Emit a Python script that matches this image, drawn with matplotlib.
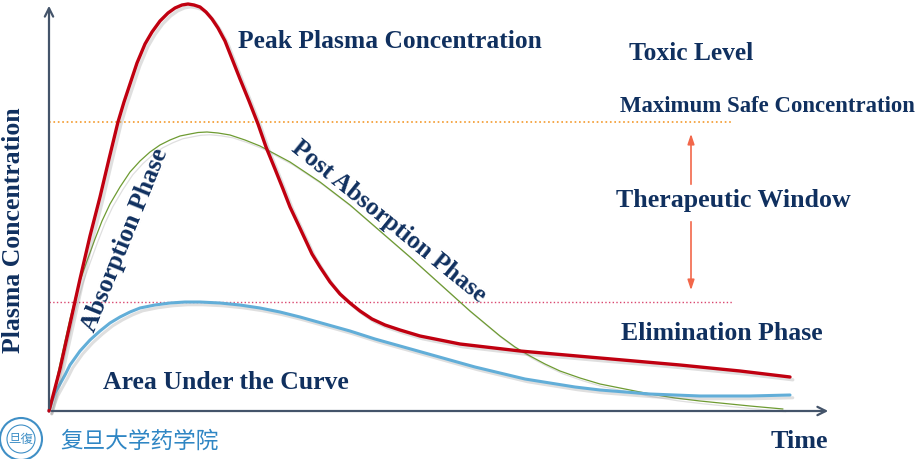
import matplotlib
matplotlib.use('Agg')
import matplotlib.pyplot as plt
import matplotlib.patheffects as pe

# time (arbitrary units) / plasma concentration (arbitrary units)
red_t = [0, 11, 21, 31, 41, 51, 60, 69, 75, 81, 88, 96, 103, 111, 119, 126, 133, 139, 145, 151,
         157, 163, 169, 176, 191, 200, 209, 217, 226, 234, 241, 249, 256, 263, 271, 281, 291, 301,
         311, 323, 336, 351, 371, 411, 471, 551, 631, 691, 741]
red_c = [0, 42, 87, 132, 175, 214, 252, 289, 309, 327, 348, 367, 379, 390, 398, 403, 406, 407, 406, 404,
         399, 392, 383, 370, 332, 310, 287, 264, 242, 222, 204, 187, 172, 157, 144, 129, 117, 108,
         100, 92, 86, 81, 75, 67, 60, 53, 46, 40, 34]

green_t = [0, 6, 11, 16, 21, 26, 31, 38, 46, 53, 61, 71, 81, 91, 101, 111, 121, 131, 141, 149,
           158, 169, 181, 196, 211, 241, 271, 301, 331, 361, 391, 421, 451, 466, 481, 496, 511, 531,
           551, 576, 601, 626, 651, 701, 734]
green_c = [0, 24, 47, 70, 92, 112, 130, 150, 172, 190, 207, 224, 239, 250, 259, 266, 271, 275, 277, 278.5,
           279, 278, 276, 271, 265, 249, 229, 206, 180, 154, 127, 100, 75, 64, 55, 47, 40, 33,
           27, 22, 17, 13, 10, 5, 2]

blue_t = [0, 3, 6, 11, 16, 21, 31, 41, 51, 61, 71, 81, 91, 106, 121, 136, 151, 171, 191, 211,
          231, 251, 276, 301, 326, 351, 376, 401, 426, 451, 476, 501, 526, 551, 576, 601, 651, 701, 741]
blue_c = [0, 10, 18, 27, 36, 46, 60, 71, 80, 88, 94, 99, 103, 106, 108, 109, 109, 108, 106, 103,
          99, 94, 87, 80, 72, 65, 58, 51, 44, 38, 32, 28, 24, 21, 19, 17, 15, 15, 16]

max_safe = 289
min_eff = 109

navy = '#10305F'
axis_col = '#44546A'

fig = plt.figure(figsize=(9.21, 4.60), dpi=100)
ax = fig.add_axes([0, 0, 1, 1])
ax.set_xlim(-49, 872)
ax.set_ylim(-48, 412)
ax.axis('off')

shadow = [pe.SimpleLineShadow(offset=(2, -2), alpha=0.25, shadow_color='gray'), pe.Normal()]

# threshold lines
ax.plot([0, 684], [max_safe, max_safe], ls=':', color='#F39A2B', lw=1.2)
ax.plot([0, 684], [min_eff, min_eff], ls=':', color='#D9466E', lw=1.0)

# curves
ax.plot(green_t, green_c, color='#6E9B32', lw=0.9, path_effects=shadow,
        solid_capstyle='round', solid_joinstyle='round')
ax.plot(blue_t, blue_c, color='#62AED8', lw=2.2, path_effects=shadow,
        solid_capstyle='round', solid_joinstyle='round')
ax.plot(red_t, red_c, color='#C00010', lw=2.4, path_effects=shadow,
        solid_capstyle='round', solid_joinstyle='round')

# axes with arrows
ax.annotate('', xy=(0, 408), xytext=(0, 0),
            arrowprops=dict(arrowstyle='->,head_length=0.6,head_width=0.3', color=axis_col, lw=1.6))
ax.annotate('', xy=(782, 0), xytext=(0, 0),
            arrowprops=dict(arrowstyle='->,head_length=0.6,head_width=0.3', color=axis_col, lw=1.6))

# therapeutic window arrows
ax.annotate('', xy=(642, 280), xytext=(642, 224),
            arrowprops=dict(arrowstyle='-|>,head_length=0.6,head_width=0.2', color='#F2674A', lw=1.2))
ax.annotate('', xy=(642, 118), xytext=(642, 192),
            arrowprops=dict(arrowstyle='-|>,head_length=0.6,head_width=0.2', color='#F2674A', lw=1.2))

font = dict(family='Liberation Serif', weight='bold', color=navy)
ax.text(189, 370, 'Peak Plasma Concentration', fontsize=18.4, ha='left', va='center', **font)
ax.text(580, 358, 'Toxic Level', fontsize=18.4, ha='left', va='center', **font)
ax.text(571, 306, 'Maximum Safe Concentration', fontsize=16.4, ha='left', va='center', **font)
ax.text(567, 211, 'Therapeutic Window', fontsize=18.6, ha='left', va='center', **font)
ax.text(572, 78, 'Elimination Phase', fontsize=18.5, ha='left', va='center', **font)
ax.text(54, 29, 'Area Under the Curve', fontsize=18.5, ha='left', va='center', **font)
ax.text(722, -30, 'Time', fontsize=18.8, ha='left', va='center', **font)
ax.text(-35, 182, 'Plasma Concentration', fontsize=18.5, rotation=90, ha='center', va='center', **font)
ax.text(76, 172, 'Absorption Phase', fontsize=18.5, rotation=68, ha='center', va='center', **font)
ax.text(340, 190, 'Post Absorption Phase', fontsize=18.2, rotation=-39, ha='center', va='center',
        rotation_mode='anchor', **font)

# logo and school name
logo = plt.Circle((-28, -28), 21, fill=False, ec='#3F8FC6', lw=1.5)
ax.add_patch(logo)
ax.add_patch(plt.Circle((-28, -28), 14, fill=False, ec='#3F8FC6', lw=0.8))
ax.text(-28, -28, '旦復', fontsize=9, ha='center', va='center', color='#3F8FC6',
        family=['Noto Sans CJK SC', 'DejaVu Sans'])
ax.text(11, -29, '复旦大学药学院', fontsize=16.3, ha='left', va='center', color='#2F86C4',
        family=['Noto Sans CJK SC', 'DejaVu Sans'])

fig.savefig('out.png', dpi=100)
